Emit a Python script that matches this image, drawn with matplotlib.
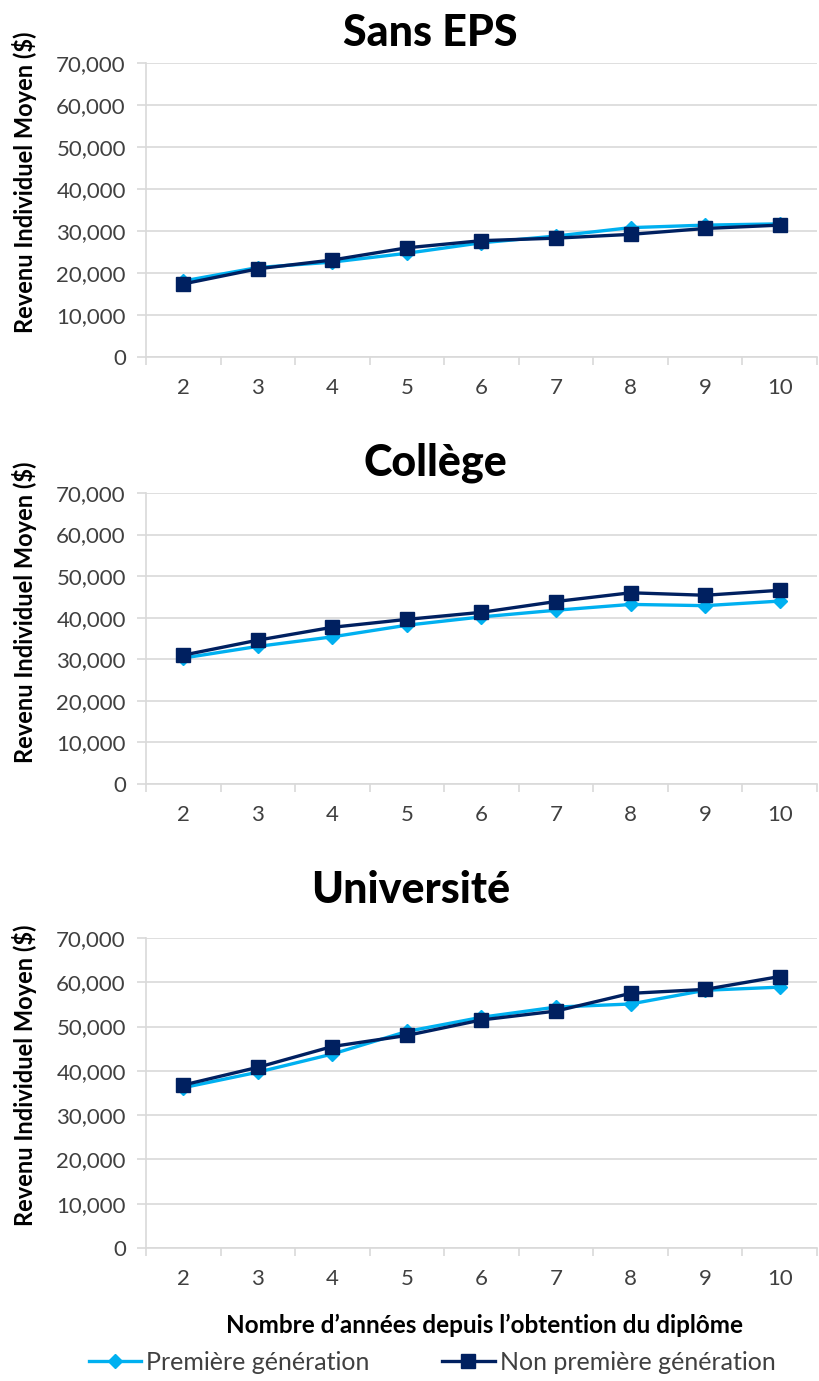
import matplotlib.pyplot as plt
from matplotlib.ticker import FuncFormatter, FixedLocator, MultipleLocator

plt.rcParams['font.family'] = ['Lato', 'DejaVu Sans']

years = [2, 3, 4, 5, 6, 7, 8, 9, 10]

# Revenu individuel moyen par type de diplôme
sans_eps_premiere = [18100, 21300, 22600, 24700, 27200, 28800, 30800, 31400, 31700]
sans_eps_non = [17400, 21000, 23100, 26000, 27700, 28300, 29200, 30600, 31400]

college_premiere = [30300, 33100, 35400, 38200, 40200, 41800, 43200, 42900, 44000]
college_non = [31000, 34600, 37700, 39600, 41300, 43900, 46000, 45400, 46600]

universite_premiere = [36200, 39700, 43800, 48900, 52100, 54400, 55100, 58200, 58900]
universite_non = [36800, 40800, 45500, 48000, 51500, 53500, 57500, 58400, 61300]

panels = [
    ("Sans EPS", sans_eps_premiere, sans_eps_non),
    ("Collège", college_premiere, college_non),
    ("Université", universite_premiere, universite_non),
]

light = "#00b0f0"
dark = "#002060"
grid = "#d9d9d9"
text = "#404040"

W, H = 820, 1381
fig = plt.figure(figsize=(W / 100, H / 100), dpi=100)

# plot area (top, bottom), title centre (x, y), y-label centre y, in pixels
boxes = [(63, 357), (493, 784), (938, 1248)]
titles_xy = [(430, 33), (435, 463), (411, 890)]
ylabel_y = [182, 612, 1075]

for (name, prem, non), (top, bot), (tx, ty), ly in zip(panels, boxes, titles_xy, ylabel_y):
    left, right = 146, 817
    ax = fig.add_axes([left / W, 1 - bot / H, (right - left) / W, (bot - top) / H])
    l1, = ax.plot(years, prem, color=light, lw=2.4, marker="D", ms=7,
                  label="Première génération", zorder=3)
    l2, = ax.plot(years, non, color=dark, lw=2.4, marker="s", ms=9.5,
                  label="Non première génération", zorder=4)

    ax.set_xlim(1.5, 10.5)
    ax.set_ylim(0, 70000)
    ax.yaxis.set_major_locator(MultipleLocator(10000))
    ax.yaxis.set_major_formatter(FuncFormatter(lambda v, p: f"{int(v):,}"))
    ax.grid(axis="y", color=grid, lw=1.2)
    ax.set_axisbelow(True)

    # category boundaries as tick marks, labels centred on categories
    ax.xaxis.set_major_locator(FixedLocator([y - 0.5 for y in years] + [10.5]))
    ax.xaxis.set_minor_locator(FixedLocator(years))
    ax.xaxis.set_major_formatter(FuncFormatter(lambda v, p: ""))
    ax.xaxis.set_minor_formatter(FuncFormatter(lambda v, p: f"{int(v)}"))
    ax.tick_params(axis="x", which="major", length=5.5, color=grid, width=1.2)
    ax.tick_params(axis="x", which="minor", length=0, pad=15,
                   labelsize=16, labelcolor=text)
    ax.tick_params(axis="y", length=6.5, color=grid, width=1.2, pad=8,
                   labelsize=16, labelcolor=text)

    for s in ["top", "right"]:
        ax.spines[s].set_visible(False)
    ax.spines["left"].set_color(grid)
    ax.spines["bottom"].set_color(grid)
    ax.spines["left"].set_linewidth(1.2)
    ax.spines["bottom"].set_linewidth(1.2)

    fig.text(25 / W, 1 - ly / H, "Revenu Individuel Moyen ($)", rotation=90,
             ha="center", va="center", fontsize=17, fontweight="bold", color="black")
    fig.text(tx / W, 1 - ty / H, name, ha="center", va="center",
             fontsize=31, fontweight="black", color="black")

fig.text(485 / W, 1 - 1325 / H, "Nombre d\u2019années depuis l\u2019obtention du diplôme",
         ha="center", va="center", fontsize=17.5, fontweight="bold", color="black")

fig.legend(handles=[l1, l2], loc="center", bbox_to_anchor=(432 / W, 1 - 1362 / H),
           ncol=2, frameon=False, fontsize=18, labelcolor=text,
           handlelength=2.1, handletextpad=0.2, columnspacing=2.9)

fig.savefig("out.png", dpi=100)
